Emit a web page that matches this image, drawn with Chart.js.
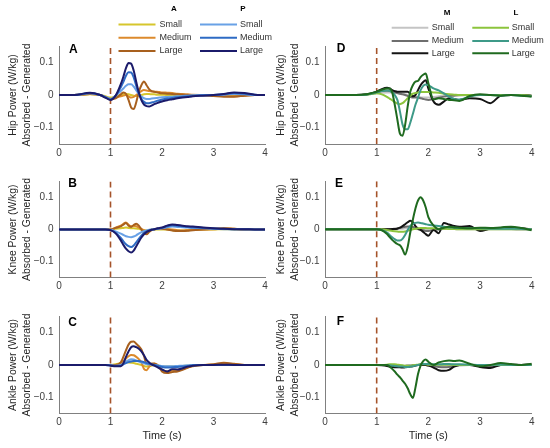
<!DOCTYPE html>
<html>
<head>
<meta charset="utf-8">
<script src="https://cdn.jsdelivr.net/npm/chart.js@4/dist/chart.umd.min.js"></script>
<style>
html, body { margin: 0; padding: 0; background: #ffffff; }
#wrap { position: relative; width: 550px; height: 448px; overflow: hidden; background: #ffffff; }
#wrap canvas { position: absolute; }
</style>
</head>
<body>
<div id="wrap">
  <canvas id="cA"></canvas>
  <canvas id="cB"></canvas>
  <canvas id="cC"></canvas>
  <canvas id="cD"></canvas>
  <canvas id="cE"></canvas>
  <canvas id="cF"></canvas>
</div>
<script>
// ---------------- shared axes / labels ----------------
const time = [0, 0.3, 0.6, 0.8, 0.9, 1.0, 1.1, 1.2, 1.25, 1.3, 1.35, 1.4, 1.45, 1.5, 1.55, 1.6, 1.65, 1.7, 1.75, 1.8,
              1.85, 1.9, 1.95, 2.0, 2.1, 2.2, 2.3, 2.4, 2.5, 2.6, 2.8, 3.0, 3.2, 3.4, 3.6, 3.8, 4.0];
const xTicks = [0, 1, 2, 3, 4];
const yTicks = [-0.1, 0, 0.1];
const yLimits = [-0.15, 0.15];
const xLimits = [0, 4];
const eventTime = 1;
const sizes = ['Small', 'Medium', 'Large'];
const groupsLeft = ['A', 'P'];
const groupsRight = ['M', 'L'];
const hipTitle = ['Hip Power (W/kg)', 'Absorbed - Generated'];
const kneeTitle = ['Knee Power (W/kg)', 'Absorbed - Generated'];
const ankleTitle = ['Ankle Power (W/kg)', 'Absorbed - Generated'];
const xTitle = 'Time (s)';

// ---------------- Panel A : hip, groups A / P ----------------
const hipA_small  = [0,0,0.002,0,-0.004,-0.008,-0.004,0,0.002,0.003,0.002,0,-0.002,-0.003,-0.002,0,0.002,0.003,0.003,0.002,0.002,0.001,0.001,0.001,0,0,0,0,0,0,0,0,-0.001,-0.001,0,0,0];
const hipA_medium = [0,0,0.003,0,-0.006,-0.012,-0.008,-0.004,-0.002,0,-0.004,-0.008,-0.006,0,0.006,0.012,0.015,0.014,0.012,0.011,0.01,0.01,0.009,0.008,0.007,0.006,0.004,0.003,0.002,0.001,0,-0.001,-0.003,-0.004,-0.002,0,0];
const hipA_large  = [0,0,0.003,0,-0.007,-0.013,-0.01,0.002,0.008,0.004,-0.015,-0.038,-0.043,-0.022,0.01,0.03,0.041,0.03,0.018,0.012,0.01,0.008,0.006,0.005,0.004,0.003,0.002,0.001,0,0,-0.001,-0.003,-0.005,-0.005,-0.002,0,0];
const hipP_small  = [0,0,0.005,0,-0.006,-0.012,-0.002,0.012,0.02,0.028,0.033,0.033,0.026,0.014,0.003,-0.005,-0.01,-0.012,-0.012,-0.011,-0.01,-0.009,-0.008,-0.007,-0.006,-0.005,-0.004,-0.003,-0.002,-0.001,0,0,0.001,0.003,0.002,0,0];
const hipP_medium = [0,0,0.006,0,-0.007,-0.014,-0.002,0.024,0.04,0.059,0.07,0.069,0.054,0.028,0.005,-0.012,-0.021,-0.025,-0.025,-0.023,-0.021,-0.018,-0.016,-0.014,-0.011,-0.009,-0.007,-0.005,-0.004,-0.003,-0.001,0,0.002,0.006,0.004,0.001,0];
const hipP_large  = [0,0,0.007,0,-0.008,-0.015,-0.002,0.033,0.056,0.082,0.098,0.096,0.075,0.04,0.008,-0.016,-0.029,-0.034,-0.035,-0.032,-0.028,-0.025,-0.022,-0.02,-0.016,-0.013,-0.01,-0.008,-0.006,-0.004,-0.002,0,0.003,0.008,0.006,0.001,0];

// ---------------- Panel B : knee, groups A / P ----------------
const kneeA_small  = [0,0,0,0,0,0,0.002,0.004,0.005,0.006,0.005,0.004,0.004,0.003,0.002,0,-0.002,-0.003,-0.002,-0.001,0,0,0,0,0,-0.002,-0.003,-0.003,-0.002,-0.001,0,0,0.001,0,0,0,0];
const kneeA_medium = [0,0,0,0,0,0,0.006,0.012,0.018,0.022,0.015,0.01,0.012,0.01,0.006,0.002,-0.002,-0.004,-0.002,0,0.001,0.002,0.002,0.002,0.001,0,-0.002,-0.003,-0.002,-0.001,0,0.001,0.003,0.002,0,0,0];
const kneeA_large  = [0,0,0,0,0,0,0.005,0.01,0.015,0.02,0.012,0.008,0.014,0.018,0.012,0,-0.01,-0.015,-0.008,-0.002,0,0.002,0.002,0.002,0,-0.003,-0.005,-0.005,-0.004,-0.002,0,0.002,0.004,0.002,0,0,0];
const kneeP_small  = [0,0,0,0,0,-0.001,-0.006,-0.013,-0.017,-0.021,-0.023,-0.024,-0.022,-0.018,-0.013,-0.008,-0.005,-0.003,-0.001,0,0.001,0.002,0.003,0.004,0.007,0.009,0.008,0.007,0.006,0.005,0.004,0.002,0.001,0.001,0,0,0];
const kneeP_medium = [0,0,0,0,0,-0.002,-0.01,-0.026,-0.037,-0.046,-0.052,-0.055,-0.05,-0.04,-0.029,-0.019,-0.011,-0.006,-0.003,-0.001,0.001,0.002,0.004,0.005,0.01,0.013,0.012,0.01,0.008,0.007,0.005,0.003,0.002,0.001,0.001,0,0];
const kneeP_large  = [0,0,0,0,0,-0.002,-0.012,-0.034,-0.048,-0.06,-0.068,-0.072,-0.066,-0.052,-0.038,-0.025,-0.015,-0.008,-0.004,-0.001,0.001,0.003,0.005,0.006,0.012,0.016,0.014,0.012,0.01,0.009,0.006,0.004,0.002,0.001,0.001,0,0];

// ---------------- Panel C : ankle, groups A / P ----------------
const ankleA_small  = [0,0,0,0,0,0,0.002,0.006,0.008,0.009,0.008,0.007,0.006,0.004,0.002,0,-0.003,-0.005,-0.004,-0.002,0,0,-0.002,-0.004,-0.005,-0.005,-0.004,-0.003,-0.002,-0.001,0,0,0.001,0,0,0,0];
const ankleA_medium = [0,0,0,0,0,0,0,0.005,0.012,0.02,0.027,0.031,0.03,0.025,0.018,0.008,-0.012,-0.016,-0.006,0.002,0.004,0.002,-0.005,-0.015,-0.02,-0.018,-0.016,-0.012,-0.008,-0.004,0,0.001,0.004,0.002,0,0,0];
const ankleA_large  = [0,0,0,0,0,0,0,0.008,0.025,0.045,0.063,0.072,0.073,0.066,0.058,0.048,0.028,0.003,0.002,0.005,0.005,0,-0.008,-0.02,-0.025,-0.022,-0.02,-0.015,-0.008,-0.002,0,0.002,0.007,0.004,0,0,0];
const ankleP_small  = [0,0,0,0,0,-0.001,-0.002,0,0.005,0.01,0.015,0.018,0.017,0.014,0.011,0.008,0.005,0.003,0.002,0.001,0,-0.001,-0.002,-0.003,-0.004,-0.004,-0.003,-0.002,-0.001,0,0,0,0,0,0,0,0];
const ankleP_medium = [0,0,0,0,0,-0.001,-0.003,-0.002,0.002,0.006,0.009,0.011,0.012,0.012,0.012,0.011,0.009,0.006,0.004,0.002,0,-0.002,-0.004,-0.006,-0.008,-0.007,-0.006,-0.005,-0.003,-0.001,0,0,0,0,0,0,0];
const ankleP_large  = [0,0,0,0,0,-0.002,-0.004,-0.004,0.005,0.025,0.042,0.055,0.058,0.055,0.05,0.042,0.03,0.016,0.008,0.002,-0.002,-0.006,-0.01,-0.014,-0.02,-0.013,-0.014,-0.01,-0.005,-0.002,0,0,0.001,0,0,0,0];

// ---------------- Panel D : hip, groups M / L ----------------
const hipM_small  = [0,0,0,0.001,0.003,0.005,0.007,0.008,0.008,0.007,0.006,0.005,0.004,0.003,0.002,0,-0.002,-0.004,-0.005,-0.006,-0.007,-0.008,-0.008,-0.008,-0.006,-0.004,-0.002,-0.001,0,0,0,0,0,0,0,0,0];
const hipM_medium = [0,0,0,0.001,0.004,0.008,0.012,0.013,0.012,0.01,0.008,0.006,0.004,0.002,0,-0.003,-0.006,-0.008,-0.008,-0.008,-0.01,-0.012,-0.014,-0.015,-0.012,-0.008,-0.005,-0.003,-0.002,-0.001,0,0,0,0,0,0,-0.002];
const hipM_large  = [0,0,0,0.002,0.005,0.01,0.018,0.022,0.02,0.015,0.012,0.01,0.01,0.01,0.01,0.01,0.004,-0.004,0,0.015,0.03,0.04,0.045,0.02,-0.02,-0.03,-0.02,-0.01,-0.012,-0.015,-0.01,-0.012,-0.025,-0.002,0,0,-0.003];
const hipL_small  = [0,0,0,0.001,0.003,0.005,0.002,-0.006,-0.011,-0.016,-0.022,-0.026,-0.028,-0.025,-0.018,-0.01,-0.002,0.004,0.006,0.008,0.009,0.009,0.009,0.009,0.008,0.007,0.004,0.002,0.001,0,0,0,0,0,0,0,-0.002];
const hipL_medium = [0,0,0,0.001,0.004,0.008,0.012,0.014,0.013,0.008,0,-0.015,-0.05,-0.09,-0.105,-0.105,-0.085,-0.058,-0.03,-0.008,0.015,0.028,0.032,0.03,0.02,0.014,0.005,-0.005,-0.012,-0.014,-0.005,0,0,-0.002,0,-0.002,-0.004];
const hipL_large  = [0,0,0,0.002,0.006,0.01,0.016,0.02,0.02,0.008,-0.03,-0.075,-0.118,-0.125,-0.092,-0.035,0.01,0.03,0.041,0.043,0.055,0.062,0.066,0.036,-0.014,-0.01,-0.012,-0.015,-0.016,-0.018,-0.003,0.002,0,-0.002,0,-0.002,-0.005];

// ---------------- Panel E : knee, groups M / L ----------------
const kneeM_small  = [0,0,0,0,0,0,0,0,0,0,0.001,0.001,0.002,0.002,0.003,0.003,0.003,0.002,0.001,0,-0.001,-0.001,-0.002,-0.002,-0.001,0,0.001,0.001,0.001,0,0,0,0,0,0,0,0];
const kneeM_medium = [0,0,0,0,0,0,0,0,0.001,0.001,0.002,0.003,0.004,0.006,0.008,0.009,0.009,0.007,0.004,0.001,-0.001,-0.003,-0.005,-0.005,-0.002,0,0.003,0.004,0.003,0.002,0.002,0,0.001,0.001,0.001,0,0];
const kneeM_large  = [0,0,0,0,0,0,0,0,0,0.001,0.001,0.002,0.005,0.01,0.016,0.022,0.027,0.022,0.01,0.002,-0.002,-0.008,-0.015,-0.02,-0.002,-0.012,0.02,0.015,0.01,0.008,0.01,-0.005,0.002,0.004,0.005,0.003,0];
const kneeL_small  = [0,0,0,0,0,0,0,-0.002,-0.004,-0.005,-0.006,-0.007,-0.008,-0.008,-0.007,-0.005,-0.002,0,0.002,0.003,0.004,0.004,0.004,0.003,0.003,0.002,0.002,0.001,0.001,0,0,0,0,0,0,0,0];
const kneeL_medium = [0,0,0,0,0,0,-0.002,-0.01,-0.018,-0.025,-0.031,-0.035,-0.035,-0.03,-0.018,-0.002,0.01,0.017,0.02,0.021,0.02,0.018,0.016,0.014,0.012,0.01,0.008,0.006,0.005,0.004,0.003,0.003,0.002,0.002,0.002,0.001,0];
const kneeL_large  = [0,0,0,0,0,0,-0.003,-0.015,-0.024,-0.033,-0.04,-0.046,-0.05,-0.062,-0.079,-0.055,-0.01,0.03,0.065,0.09,0.1,0.09,0.068,0.038,0.012,0,0.005,0.008,0.006,0.005,0.003,0.005,0.004,0.006,0.008,0.004,-0.003];

// ---------------- Panel F : ankle, groups M / L ----------------
const ankleM_small  = [0,0,0,0,0,0,0,0,-0.001,-0.001,-0.002,-0.002,-0.002,-0.002,-0.002,-0.001,-0.001,0,0,0,0,0,0,0,-0.001,-0.002,-0.003,-0.002,-0.001,0,0,0,-0.001,0,0,0,0];
const ankleM_medium = [0,0,0,0,0,0,0,-0.001,-0.002,-0.003,-0.003,-0.003,-0.003,-0.003,-0.003,-0.002,-0.002,-0.001,0,0,0,0,0,-0.001,-0.004,-0.006,-0.007,-0.006,-0.003,-0.001,0,-0.002,-0.003,0,0,0,0];
const ankleM_large  = [0,0,0,0,0,0,-0.001,-0.003,-0.005,-0.006,-0.007,-0.007,-0.007,-0.008,-0.007,-0.006,-0.005,-0.004,-0.002,0,0,0,0,-0.002,-0.008,-0.016,-0.018,-0.015,-0.005,0,0,-0.006,-0.009,0,0.001,0,0.002];
const ankleL_small  = [0,0,0,0,0,0,0,0.001,0.002,0.002,0.002,0.001,0,-0.001,-0.002,-0.002,-0.002,-0.001,0,0.001,0.002,0.002,0.002,0.001,0.001,0.001,0.001,0.001,0,0,0,0,0,0,0,0,0];
const ankleL_medium = [0,0,0,0,0,0,0,0,-0.001,-0.002,-0.003,-0.004,-0.005,-0.005,-0.006,-0.006,-0.005,-0.004,-0.002,0,0.002,0.003,0.003,0.003,0.002,0.002,0.003,0.003,0.002,0.002,0.001,0,0,0.001,0,0,0];
const ankleL_large  = [0,0,0,0,0,0,0,0,-0.005,-0.012,-0.02,-0.03,-0.038,-0.048,-0.058,-0.072,-0.09,-0.102,-0.07,-0.028,-0.002,0.012,0.017,0.01,0,0.008,0.012,0.014,0.012,0.014,0.004,-0.004,0,0.006,0.003,0,0.004];

// ---------------- styling ----------------
const FONT = '"Liberation Sans", Arial, Helvetica, sans-serif';
const palette = {
  A: ['#D6C62C', '#DC8A2C', '#A8601E'],
  P: ['#69A1E6', '#2E6BC4', '#1B1B6B'],
  M: ['#C4C4C4', '#6E6E6E', '#141414'],
  L: ['#8CC43C', '#3E9A88', '#1F6A1F']
};
const eventColor = '#A5532A';
const axisColor = '#808080';
const tickColor = '#404040';
const titleColor = '#262626';

const legendLeft = {
  headerX: [174, 243], headerY: 9, rowY: [24.5, 37.7, 51],
  lineX: [[118.5, 155.5], [200, 237]], textX: [159.5, 240]
};
const legendRight = {
  headerX: [179, 248], headerY: 12.5, rowY: [27.7, 41, 53.3],
  lineX: [[123.7, 160.3], [204.3, 241]], textX: [163.7, 243.7]
};

const panels = [
  { id: 'cA', letter: 'A', title: hipTitle, groups: groupsLeft,
    series: { A: [hipA_small, hipA_medium, hipA_large], P: [hipP_small, hipP_medium, hipP_large] },
    canvas: [0, 0, 275, 162], plot: [59, 46, 265, 144], letterPos: [10, 7.3], legend: legendLeft, showXTitle: false },
  { id: 'cB', letter: 'B', title: kneeTitle, groups: groupsLeft,
    series: { A: [kneeA_small, kneeA_medium, kneeA_large], P: [kneeP_small, kneeP_medium, kneeP_large] },
    canvas: [0, 162, 275, 134], plot: [59, 181.5, 265, 277.5], letterPos: [9.3, 5.8], legend: null, showXTitle: false },
  { id: 'cC', letter: 'C', title: ankleTitle, groups: groupsLeft,
    series: { A: [ankleA_small, ankleA_medium, ankleA_large], P: [ankleP_small, ankleP_medium, ankleP_large] },
    canvas: [0, 296, 275, 152], plot: [59, 316.5, 265, 413.5], letterPos: [9.3, 9.8], legend: null, showXTitle: true },
  { id: 'cD', letter: 'D', title: hipTitle, groups: groupsRight,
    series: { M: [hipM_small, hipM_medium, hipM_large], L: [hipL_small, hipL_medium, hipL_large] },
    canvas: [268, 0, 282, 162], plot: [325, 46, 531.7, 144], letterPos: [11.7, 5.7], legend: legendRight, showXTitle: false },
  { id: 'cE', letter: 'E', title: kneeTitle, groups: groupsRight,
    series: { M: [kneeM_small, kneeM_medium, kneeM_large], L: [kneeL_small, kneeL_medium, kneeL_large] },
    canvas: [268, 162, 282, 134], plot: [325, 181.3, 531.7, 277.3], letterPos: [10, 6], legend: null, showXTitle: false },
  { id: 'cF', letter: 'F', title: ankleTitle, groups: groupsRight,
    series: { M: [ankleM_small, ankleM_medium, ankleM_large], L: [ankleL_small, ankleL_medium, ankleL_large] },
    canvas: [268, 296, 282, 152], plot: [325, 316.5, 531.7, 413.5], letterPos: [11.7, 8.2], legend: null, showXTitle: true }
];

function fmtY(v) {
  if (Math.abs(v) < 1e-9) return '0';
  return (v < 0 ? '\u2212' : '') + String(Math.round(Math.abs(v) * 1000) / 1000);
}

function makeChart(p) {
  const [cx, cy, cw, ch] = p.canvas;
  const [pl, pt, pr, pb] = p.plot;
  const el = document.getElementById(p.id);
  el.width = cw; el.height = ch;
  el.style.left = cx + 'px'; el.style.top = cy + 'px';
  el.style.width = cw + 'px'; el.style.height = ch + 'px';

  const datasets = [{
    label: 'event', data: yLimits.map(v => ({ x: eventTime, y: v })),
    borderColor: eventColor, borderWidth: 1.6, borderDash: [6, 4],
    pointRadius: 0, fill: false, order: 1000
  }];
  let n = 0;
  p.groups.forEach(g => {
    sizes.forEach((s, si) => {
      const vals = p.series[g][si];
      datasets.push({
        label: g + ' ' + s, group: g, size: s,
        data: time.map((t, i) => ({ x: t, y: vals[i] })),
        borderColor: palette[g][si], backgroundColor: palette[g][si],
        borderWidth: 2, pointRadius: 0, fill: false,
        cubicInterpolationMode: 'monotone', order: 100 - n
      });
      n++;
    });
  });

  const yW = pl - cx;
  const xH = cy + ch - pb;

  const letterPlugin = {
    id: 'panelLetter',
    afterDraw(chart) {
      const a = chart.chartArea, ctx = chart.ctx;
      ctx.save();
      ctx.font = 'bold 12px ' + FONT;
      ctx.fillStyle = '#000000';
      ctx.textAlign = 'left';
      ctx.textBaseline = 'alphabetic';
      ctx.fillText(p.letter, a.left + p.letterPos[0], a.top + p.letterPos[1]);
      ctx.restore();
    }
  };

  const legendPlugin = {
    id: 'groupLegend',
    afterDraw(chart) {
      const L = p.legend;
      if (!L) return;
      const ctx = chart.ctx;
      ctx.save();
      p.groups.forEach((g, gi) => {
        ctx.font = 'bold 8px ' + FONT;
        ctx.fillStyle = '#000000';
        ctx.textAlign = 'center';
        ctx.textBaseline = 'middle';
        ctx.fillText(g, L.headerX[gi], L.headerY);
        chart.data.datasets.filter(d => d.group === g).forEach((d, ri) => {
          const y = L.rowY[ri];
          ctx.strokeStyle = d.borderColor;
          ctx.lineWidth = 2;
          ctx.setLineDash([]);
          ctx.beginPath();
          ctx.moveTo(L.lineX[gi][0], y);
          ctx.lineTo(L.lineX[gi][1], y);
          ctx.stroke();
          ctx.font = '9px ' + FONT;
          ctx.fillStyle = '#333333';
          ctx.textAlign = 'left';
          ctx.textBaseline = 'middle';
          ctx.fillText(d.size, L.textX[gi], y);
        });
      });
      ctx.restore();
    }
  };

  return new Chart(el, {
    type: 'line',
    data: { datasets },
    options: {
      responsive: false,
      animation: false,
      events: [],
      layout: { padding: { left: 0, top: pt - cy, right: cx + cw - pr, bottom: 0 } },
      plugins: { legend: { display: false }, tooltip: { enabled: false }, title: { display: false } },
      scales: {
        x: {
          type: 'linear', min: xLimits[0], max: xLimits[1],
          afterBuildTicks: s => { s.ticks = xTicks.map(v => ({ value: v })); },
          afterFit: s => { s.height = xH; },
          grid: { display: false, drawTicks: false },
          border: { display: true, color: axisColor, width: 1 },
          ticks: { padding: 3, color: tickColor, font: { family: FONT, size: 10 }, maxRotation: 0,
                   callback: v => String(v) },
          title: { display: p.showXTitle, text: xTitle, color: titleColor,
                   font: { family: FONT, size: 10.8, lineHeight: 1.2 }, padding: { top: 0, bottom: 5 } }
        },
        y: {
          type: 'linear', min: yLimits[0], max: yLimits[1],
          afterBuildTicks: s => { s.ticks = yTicks.map(v => ({ value: v })); },
          afterFit: s => { s.width = yW; },
          grid: { display: false, drawTicks: false },
          border: { display: true, color: axisColor, width: 1 },
          ticks: { padding: 5.5, color: tickColor, font: { family: FONT, size: 10 }, callback: v => fmtY(v) },
          title: { display: true, text: p.title, color: titleColor,
                   font: { family: FONT, size: 10.4, lineHeight: 1.3 }, padding: { top: 6.8, bottom: 0 } }
        }
      }
    },
    plugins: [letterPlugin, legendPlugin]
  });
}

panels.forEach(makeChart);
</script>
</body>
</html>
